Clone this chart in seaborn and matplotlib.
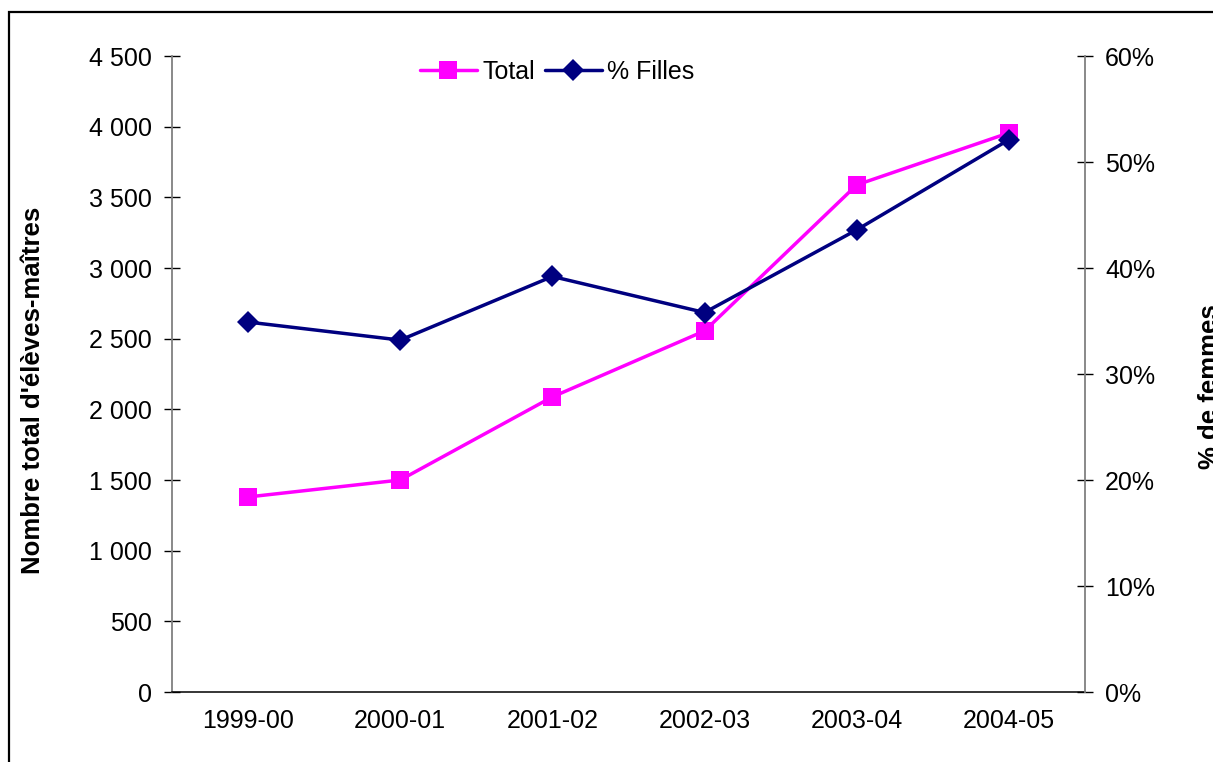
import numpy as np
import pandas as pd
import matplotlib
matplotlib.use('Agg')  # no display
import matplotlib.pyplot as plt
import seaborn as sns
from matplotlib.patches import Rectangle
from matplotlib.ticker import FuncFormatter

# values
years = ['1999-00', '2000-01', '2001-02', '2002-03', '2003-04', '2004-05']
total = [1380, 1500, 2088, 2555, 3588, 3956]
pct_filles = [34.9, 33.2, 39.2, 35.8, 43.6, 52.1]
left_ticks = [0, 500, 1000, 1500, 2000, 2500, 3000, 3500, 4000, 4500]
right_ticks = [0, 10, 20, 30, 40, 50, 60]

sns.set_style('white')
plt.rcParams['font.family'] = ['Liberation Sans', 'DejaVu Sans']
for key in ['text.color', 'axes.labelcolor', 'xtick.color', 'ytick.color']:
    plt.rcParams[key] = 'black'

df = pd.DataFrame({'pos': np.arange(len(years)), 'total': total, 'filles': pct_filles})

fig = plt.figure(figsize=(12.13, 7.62), dpi=100)
ax = fig.add_axes([172 / 1213, 70 / 762, 913 / 1213, 636 / 762])
ax2 = ax.twinx()

sns.lineplot(data=df, x='pos', y='total', ax=ax, color='#FF00FF', marker='s',
             markersize=13.5, markeredgewidth=0, linewidth=2.5)
sns.lineplot(data=df, x='pos', y='filles', ax=ax2, color='#000080', marker='D',
             markersize=11, markeredgewidth=0, linewidth=2.5)

# x axis: category boundaries as ticks, names in between
ax.set_xlim(-0.5, len(years) - 0.5)
ax.set_xticks(np.arange(-0.5, len(years), 1))
ax.set_xticklabels([])
ax.set_xticks(np.arange(len(years)), minor=True)
ax.set_xticklabels(years, minor=True)
ax.tick_params(axis='x', which='major', direction='inout', length=10, width=1, color='black')
ax.tick_params(axis='x', which='minor', length=0, pad=12, labelsize=18, labelcolor='black')
ax.set_xlabel('')

ax.set_ylim(0, 4500)
ax.set_yticks(left_ticks)
ax.yaxis.set_major_formatter(FuncFormatter(lambda v, p: f'{v:,.0f}'.replace(',', ' ')))
ax.tick_params(axis='y', direction='inout', length=11.5, width=1, color='black', pad=9,
               labelsize=18, labelcolor='black')
ax.set_ylabel('')

ax2.set_ylim(0, 60)
ax2.set_yticks(right_ticks)
ax2.yaxis.set_major_formatter(FuncFormatter(lambda v, p: f'{v:.0f}%'))
ax2.tick_params(axis='y', direction='inout', length=11.5, width=1, color='black', pad=8.6,
                labelsize=18, labelcolor='black')
ax2.set_ylabel('')

for s in ['top', 'right']:
    ax.spines[s].set_visible(False)
for s in ['top', 'left', 'bottom']:
    ax2.spines[s].set_visible(False)
ax.spines['left'].set_color('#808080')
ax.spines['left'].set_linewidth(1.3)
ax.spines['bottom'].set_color('black')
ax.spines['bottom'].set_linewidth(1.1)
ax2.spines['right'].set_color('#808080')
ax2.spines['right'].set_linewidth(1.3)

# axis titles (the right one is cut by the figure edge, as in the original)
fig.text(33 / 1213, 1 - 390 / 762, "Nombre total d'élèves-maîtres", rotation=90,
         ha='center', va='center', fontsize=18.5, fontweight='bold', color='black')
fig.text(1198 / 1213, 1 - 387 / 762, '% de femmes', rotation=90,
         ha='left', va='center', fontsize=18.5, fontweight='bold', color='black')

# legend
handles = [ax.get_lines()[0], ax2.get_lines()[0]]
fig.legend(handles, ['Total', '% Filles'], loc='center', bbox_to_anchor=(557 / 1213, 1 - 72 / 762),
           ncol=2, frameon=False, fontsize=18, handlelength=2.3, handletextpad=0.2,
           columnspacing=0.4, borderpad=0, labelcolor='black')

# chart border (cut off on right and bottom)
fig.add_artist(Rectangle((9 / 1213, -0.5), 2, 0.5 + 1 - 12 / 762, transform=fig.transFigure,
                         fill=False, lw=1.6, ec='black'))

fig.savefig('out.png', dpi=100)
plt.close(fig)
